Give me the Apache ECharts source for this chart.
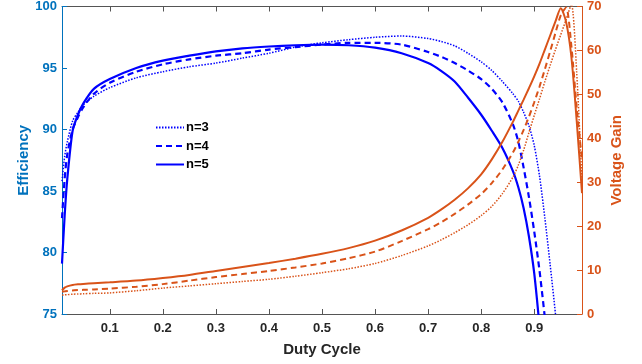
<!DOCTYPE html>
<html>
<head>
<meta charset="utf-8">
<script src="https://cdn.jsdelivr.net/npm/echarts@6/dist/echarts.min.js"></script>
<style>
  html, body { margin: 0; padding: 0; background: #fff; }
  #chart { width: 642px; height: 364px; }
</style>
</head>
<body>
<div id="chart"></div>
<script>
// duty cycle samples (shared by all curves)
var dutyCycle = [0.01, 0.015, 0.02, 0.03, 0.04, 0.05, 0.07, 0.1, 0.15, 0.2, 0.25, 0.3, 0.35, 0.4, 0.45, 0.5,
	0.55, 0.6, 0.65, 0.7, 0.725, 0.75, 0.775, 0.8, 0.82, 0.84, 0.86, 0.87, 0.88, 0.89, 0.9, 0.91, 0.92, 0.93,
	0.94, 0.95, 0.96, 0.97, 0.98, 0.99];

// efficiency (%), left axis
var effN3 = [85.8, 87.8, 89.0, 90.7, 91.4, 92.0, 92.7, 93.4, 94.2, 94.7, 95.1, 95.4, 95.8, 96.2, 96.7, 97.05,
	97.3, 97.5, 97.6, 97.4, 97.15, 96.8, 96.2, 95.5, 94.8, 93.9, 92.9, 92.3, 91.4, 90.3, 88.7, 86.2, 82.8, 79.0,
	75.0, 70.5, null, null, null, null];
var effN4 = [82.8, 86.0, 88.0, 90.0, 91.0, 91.8, 92.9, 93.8, 94.7, 95.3, 95.7, 96.0, 96.2, 96.5, 96.7, 96.9,
	97.05, 97.05, 96.9, 96.3, 95.9, 95.4, 94.8, 94.1, 93.3, 92.2, 90.4, 89.0, 86.9, 84.5, 81.7, 78.5, 74.7, 70.5,
	null, null, null, null, null, null];
var effN5 = [79.1, 83.0, 86.0, 89.9, 91.2, 92.1, 93.3, 94.1, 95.0, 95.6, 96.0, 96.35, 96.6, 96.75, 96.85, 96.9,
	96.85, 96.65, 96.2, 95.4, 94.75, 93.9, 92.6, 91.2, 89.9, 88.5, 86.6, 85.3, 83.6, 81.3, 78.3, 74.0,
	null, null, null, null, null, null, null, null];

// voltage gain, right axis
var gainN3 = [4.3, 4.35, 4.4, 4.5, 4.55, 4.6, 4.7, 4.8, 5.3, 5.9, 6.4, 6.9, 7.4, 7.9, 8.6, 9.4,
	10.3, 11.5, 13.3, 15.5, 16.9, 18.5, 20.3, 22.4, 24.5, 27.4, 31.2, 33.9, 37.3, 41.3, 45.2, 49.0, 52.9, 56.6,
	60.2, 63.6, 67.0, 70.5, 55.0, 30.0];
var gainN4 = [5.05, 5.15, 5.25, 5.35, 5.45, 5.5, 5.6, 5.8, 6.2, 6.8, 7.6, 8.4, 9.1, 9.8, 10.6, 11.5,
	12.7, 14.2, 16.6, 19.3, 20.9, 22.8, 24.9, 27.3, 29.8, 32.9, 36.8, 39.2, 41.9, 44.9, 48.2, 51.8, 55.7, 59.8,
	64.0, 68.0, 69.8, 61.0, 47.0, 35.0];
var gainN5 = [5.4, 6.0, 6.3, 6.6, 6.75, 6.85, 7.0, 7.2, 7.6, 8.2, 8.9, 9.8, 10.7, 11.6, 12.6, 13.7,
	15.0, 16.7, 19.0, 21.9, 23.8, 26.0, 28.6, 31.8, 35.2, 39.2, 43.8, 46.3, 48.8, 51.4, 54.1, 57.0, 60.2, 63.4,
	66.6, 69.6, 66.5, 58.5, 44.0, 27.5];

var xTicks = [0.1, 0.2, 0.3, 0.4, 0.5, 0.6, 0.7, 0.8, 0.9];

var BLUE = '#0000FF';
var ORANGE = '#D95319';
var EFF_AXIS = '#0072BD';
var FONT = '"Liberation Sans", Arial, sans-serif';

function pairs(ys){
	return dutyCycle.map(function(x, i){ return [x, ys[i]]; });
}

function curve(name, ys, axis, color, dash, width){
	return {
		name: name,
		type: 'line',
		yAxisIndex: axis,
		data: pairs(ys),
		showSymbol: false,
		symbol: 'none',
		smooth: 0.25,
		connectNulls: false,
		clip: true,
		lineStyle: { color: color, width: width, type: dash },
		itemStyle: { color: color }
	};
}

var chart = echarts.init(document.getElementById('chart'));
var options = {
	animation: false,
	backgroundColor: '#fff',
	grid: { left: 62, right: 60, top: 5, bottom: 50 },
	legend: {
		orient: 'vertical',
		left: 155,
		top: 121,
		padding: 0,
		itemWidth: 28,
		itemHeight: 12,
		itemGap: 5.5,
		data: ['n=3', 'n=4', 'n=5'],
		itemStyle: { opacity: 0 },	//只保留线型，不画圆点
		textStyle: { fontFamily: FONT, fontWeight: 'bold', fontSize: 13, color: '#000', padding: [0, 0, 0, -3] }
	},
	xAxis: [
		{
			type: 'value',
			min: 0.01,
			max: 0.99,
			position: 'bottom',
			name: 'Duty Cycle',
			nameLocation: 'middle',
			nameGap: 28,
			nameMoveOverlap: false,
			nameTextStyle: { fontFamily: FONT, fontWeight: 'bold', fontSize: 15, color: '#262626' },
			axisLine: { show: true, lineStyle: { color: '#555', width: 1 } },
			axisTick: { show: true, inside: true, length: 5, customValues: xTicks, lineStyle: { color: '#555' } },
			axisLabel: {
				customValues: xTicks,
				margin: 8,
				fontFamily: FONT, fontWeight: 'bold', fontSize: 13, color: '#262626',
				formatter: function(v){ return v.toFixed(1); }
			},
			splitLine: { show: false }
		},
		{
			// top frame line with ticks
			type: 'value',
			min: 0.01,
			max: 0.99,
			position: 'top',
			axisLine: { show: true, lineStyle: { color: '#555', width: 1 } },
			axisTick: { show: true, inside: true, length: 5, customValues: xTicks, lineStyle: { color: '#555' } },
			axisLabel: { show: false },
			splitLine: { show: false }
		}
	],
	yAxis: [
		{
			type: 'value',
			min: 75,
			max: 100,
			interval: 5,
			position: 'left',
			name: 'Efficiency',
			nameLocation: 'middle',
			nameGap: 31,
			nameMoveOverlap: false,
			nameTextStyle: { fontFamily: FONT, fontWeight: 'bold', fontSize: 15, color: EFF_AXIS },
			axisLine: { show: true, lineStyle: { color: EFF_AXIS, width: 1 } },
			axisTick: { show: true, inside: true, length: 5, lineStyle: { color: EFF_AXIS } },
			axisLabel: { margin: 5, fontFamily: FONT, fontWeight: 'bold', fontSize: 13, color: EFF_AXIS },
			splitLine: { show: false }
		},
		{
			type: 'value',
			min: 0,
			max: 70,
			interval: 10,
			position: 'right',
			name: 'Voltage Gain',
			nameLocation: 'middle',
			nameGap: 27,
			nameMoveOverlap: false,
			nameTextStyle: { fontFamily: FONT, fontWeight: 'bold', fontSize: 15, color: ORANGE },
			axisLine: { show: true, lineStyle: { color: ORANGE, width: 1 } },
			axisTick: { show: true, inside: true, length: 5, lineStyle: { color: ORANGE } },
			axisLabel: { margin: 5, fontFamily: FONT, fontWeight: 'bold', fontSize: 13, color: ORANGE },
			splitLine: { show: false }
		}
	],
	series: [
		curve('n=3', effN3, 0, BLUE, [1.5, 1.5], 1.5),
		curve('n=4', effN4, 0, BLUE, [6, 4], 2.2),
		curve('n=5', effN5, 0, BLUE, 'solid', 2.2),
		curve('gain n=3', gainN3, 1, ORANGE, [1.5, 1.5], 1.5),
		curve('gain n=4', gainN4, 1, ORANGE, [6, 4], 2),
		curve('gain n=5', gainN5, 1, ORANGE, 'solid', 2)
	]
};
chart.setOption(options);
</script>
</body>
</html>
